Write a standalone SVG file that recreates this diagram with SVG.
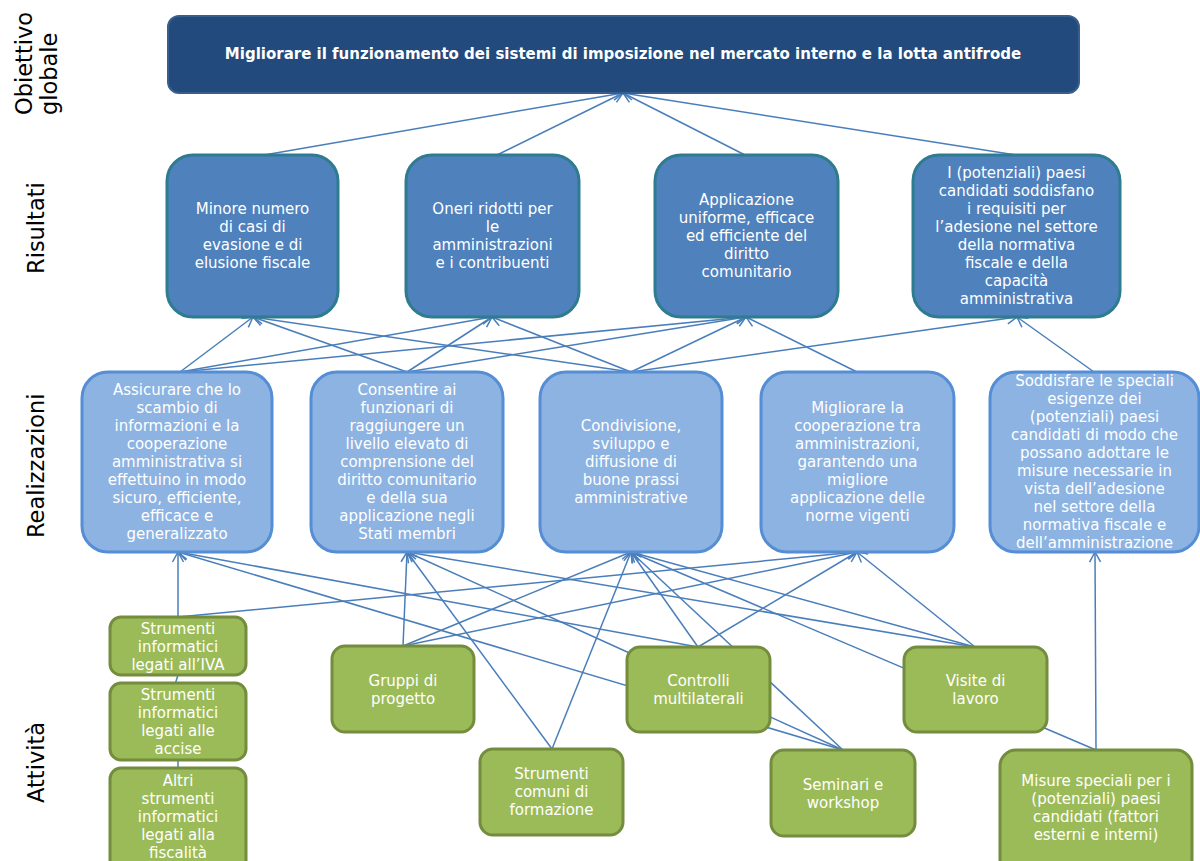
<svg xmlns="http://www.w3.org/2000/svg" width="1200" height="861" viewBox="0 0 1200 861">
<defs>
<marker id="arr" markerUnits="userSpaceOnUse" markerWidth="14" markerHeight="14" viewBox="-12 -7 14 14" refX="0" refY="0" orient="auto">
<path d="M-10,-5.5 L0,0 L-10,5.5" fill="none" stroke="#4a7ebb" stroke-width="1.5"/>
</marker>
<style>
.c{stroke:#4a7ebb;stroke-width:1.5;fill:none;marker-end:url(#arr)}
.p{stroke:#4a7ebb;stroke-width:1.5;fill:none}
.top{fill:#224a7c;stroke:#3a5e8c;stroke-width:2}
.res{fill:#4f81bd;stroke:#2f7b8f;stroke-width:3}
.real{fill:#8db3e2;stroke:#558ed5;stroke-width:3}
.act{fill:#9bbb59;stroke:#738c3d;stroke-width:3}
.t{font-family:'DejaVu Sans',Verdana,sans-serif;font-size:15px;fill:#ffffff;text-anchor:middle}
.tb{font-family:'DejaVu Sans',Verdana,sans-serif;font-size:15px;font-weight:bold;fill:#ffffff;text-anchor:middle}
.lab{font-family:'DejaVu Sans',Verdana,sans-serif;font-size:22.5px;fill:#000000}
</style>
</defs>
<rect width="1200" height="861" fill="#ffffff"/>

<g id="labels">
<text class="lab" transform="translate(32,115) rotate(-90)">Obiettivo</text>
<text class="lab" transform="translate(57,115) rotate(-90)">globale</text>
<text class="lab" transform="translate(44,274) rotate(-90)">Risultati</text>
<text class="lab" transform="translate(44,538) rotate(-90)">Realizzazioni</text>
<text class="lab" transform="translate(44,803) rotate(-90)">Attività</text>
</g>

<g id="connectors">
<line class="c" x1="264" y1="155" x2="623" y2="93"/>
<line class="c" x1="497" y1="155" x2="623" y2="93"/>
<line class="c" x1="745" y1="155" x2="623" y2="93"/>
<line class="c" x1="1016" y1="155" x2="623" y2="93"/>

<line class="c" x1="180" y1="372" x2="253" y2="317"/>
<line class="c" x1="180" y1="372" x2="492" y2="317"/>
<line class="c" x1="180" y1="372" x2="746" y2="317"/>
<line class="c" x1="407" y1="372" x2="253" y2="317"/>
<line class="c" x1="407" y1="372" x2="492" y2="317"/>
<line class="c" x1="407" y1="372" x2="746" y2="317"/>
<line class="c" x1="631" y1="372" x2="253" y2="317"/>
<line class="c" x1="631" y1="372" x2="492" y2="317"/>
<line class="c" x1="631" y1="372" x2="746" y2="317"/>
<line class="c" x1="631" y1="372" x2="1017" y2="317"/>
<line class="c" x1="857" y1="372" x2="746" y2="317"/>
<line class="c" x1="1094" y1="372" x2="1017" y2="317"/>

<line class="c" x1="178" y1="617" x2="178" y2="552"/>
<line class="c" x1="178" y1="617" x2="857" y2="552"/>
<line class="c" x1="403" y1="646" x2="407" y2="552"/>
<line class="c" x1="403" y1="646" x2="631" y2="552"/>
<line class="c" x1="403" y1="646" x2="857" y2="552"/>
<line class="c" x1="552" y1="749" x2="407" y2="552"/>
<line class="c" x1="552" y1="749" x2="631" y2="552"/>
<line class="c" x1="698" y1="647" x2="178" y2="552"/>
<line class="c" x1="698" y1="647" x2="631" y2="552"/>
<line class="c" x1="698" y1="647" x2="857" y2="552"/>
<line class="c" x1="843" y1="750" x2="178" y2="552"/>
<line class="c" x1="843" y1="750" x2="407" y2="552"/>
<line class="c" x1="843" y1="750" x2="631" y2="552"/>
<line class="c" x1="975" y1="647" x2="407" y2="552"/>
<line class="c" x1="975" y1="647" x2="631" y2="552"/>
<line class="c" x1="975" y1="647" x2="857" y2="552"/>
<line class="c" x1="1096" y1="750" x2="631" y2="552"/>
<line class="c" x1="1096" y1="750" x2="1095" y2="552"/>
<line class="p" x1="178" y1="675" x2="172" y2="694"/>
<line class="p" x1="178" y1="759" x2="178" y2="769"/>
</g>

<g id="n-top">
<rect class="top" x="168" y="16" width="911" height="77" rx="11"/>
<text class="tb" x="623" y="59">Migliorare il funzionamento dei sistemi di imposizione nel mercato interno e la lotta antifrode</text>
</g>

<g id="r1">
<rect class="res" x="167" y="155" width="171" height="162" rx="26"/>
<text class="t"><tspan x="252.5" y="214">Minore numero</tspan><tspan x="252.5" y="232">di casi di</tspan><tspan x="252.5" y="250">evasione e di</tspan><tspan x="252.5" y="268">elusione fiscale</tspan></text>
</g>
<g id="r2">
<rect class="res" x="406" y="155" width="173" height="162" rx="26"/>
<text class="t"><tspan x="492.5" y="214">Oneri ridotti per</tspan><tspan x="492.5" y="232">le</tspan><tspan x="492.5" y="250">amministrazioni</tspan><tspan x="492.5" y="268">e i contribuenti</tspan></text>
</g>
<g id="r3">
<rect class="res" x="655" y="155" width="183" height="162" rx="26"/>
<text class="t"><tspan x="746.5" y="205">Applicazione</tspan><tspan x="746.5" y="223">uniforme, efficace</tspan><tspan x="746.5" y="241">ed efficiente del</tspan><tspan x="746.5" y="259">diritto</tspan><tspan x="746.5" y="277">comunitario</tspan></text>
</g>
<g id="r4">
<rect class="res" x="913" y="155" width="207" height="162" rx="26"/>
<text class="t"><tspan x="1016.5" y="178">I (potenziali) paesi</tspan><tspan x="1016.5" y="196">candidati soddisfano</tspan><tspan x="1016.5" y="214">i requisiti per</tspan><tspan x="1016.5" y="232">l’adesione nel settore</tspan><tspan x="1016.5" y="250">della normativa</tspan><tspan x="1016.5" y="268">fiscale e della</tspan><tspan x="1016.5" y="286">capacità</tspan><tspan x="1016.5" y="304">amministrativa</tspan></text>
</g>

<g id="a1">
<rect class="real" x="82" y="372" width="190" height="180" rx="26"/>
<text class="t"><tspan x="177" y="395">Assicurare che lo</tspan><tspan x="177" y="413">scambio di</tspan><tspan x="177" y="431">informazioni e la</tspan><tspan x="177" y="449">cooperazione</tspan><tspan x="177" y="467">amministrativa si</tspan><tspan x="177" y="485">effettuino in modo</tspan><tspan x="177" y="503">sicuro, efficiente,</tspan><tspan x="177" y="521">efficace e</tspan><tspan x="177" y="539">generalizzato</tspan></text>
</g>
<g id="a2">
<rect class="real" x="311" y="372" width="192" height="180" rx="26"/>
<text class="t"><tspan x="407" y="395">Consentire ai</tspan><tspan x="407" y="413">funzionari di</tspan><tspan x="407" y="431">raggiungere un</tspan><tspan x="407" y="449">livello elevato di</tspan><tspan x="407" y="467">comprensione del</tspan><tspan x="407" y="485">diritto comunitario</tspan><tspan x="407" y="503">e della sua</tspan><tspan x="407" y="521">applicazione negli</tspan><tspan x="407" y="539">Stati membri</tspan></text>
</g>
<g id="a3">
<rect class="real" x="540" y="372" width="182" height="180" rx="26"/>
<text class="t"><tspan x="631" y="431">Condivisione,</tspan><tspan x="631" y="449">sviluppo e</tspan><tspan x="631" y="467">diffusione di</tspan><tspan x="631" y="485">buone prassi</tspan><tspan x="631" y="503">amministrative</tspan></text>
</g>
<g id="a4">
<rect class="real" x="761" y="372" width="193" height="180" rx="26"/>
<text class="t"><tspan x="857.5" y="413">Migliorare la</tspan><tspan x="857.5" y="431">cooperazione tra</tspan><tspan x="857.5" y="449">amministrazioni,</tspan><tspan x="857.5" y="467">garantendo una</tspan><tspan x="857.5" y="485">migliore</tspan><tspan x="857.5" y="503">applicazione delle</tspan><tspan x="857.5" y="521">norme vigenti</tspan></text>
</g>
<g id="a5">
<rect class="real" x="990" y="372" width="209" height="180" rx="26"/>
<text class="t"><tspan x="1094.5" y="386">Soddisfare le speciali</tspan><tspan x="1094.5" y="404">esigenze dei</tspan><tspan x="1094.5" y="422">(potenziali) paesi</tspan><tspan x="1094.5" y="440">candidati di modo che</tspan><tspan x="1094.5" y="458">possano adottare le</tspan><tspan x="1094.5" y="476">misure necessarie in</tspan><tspan x="1094.5" y="494">vista dell’adesione</tspan><tspan x="1094.5" y="512">nel settore della</tspan><tspan x="1094.5" y="530">normativa fiscale e</tspan><tspan x="1094.5" y="548">dell’amministrazione</tspan></text>
</g>

<g id="b1">
<rect class="act" x="110" y="617" width="136" height="58" rx="11"/>
<text class="t"><tspan x="178" y="634">Strumenti</tspan><tspan x="178" y="652">informatici</tspan><tspan x="178" y="670">legati all’IVA</tspan></text>
</g>
<g id="b2">
<rect class="act" x="110" y="683" width="136" height="77" rx="11"/>
<text class="t"><tspan x="178" y="700">Strumenti</tspan><tspan x="178" y="718">informatici</tspan><tspan x="178" y="736">legati alle</tspan><tspan x="178" y="754">accise</tspan></text>
</g>
<g id="b3">
<rect class="act" x="110" y="768" width="136" height="110" rx="11"/>
<text class="t"><tspan x="178" y="786">Altri</tspan><tspan x="178" y="804">strumenti</tspan><tspan x="178" y="822">informatici</tspan><tspan x="178" y="840">legati alla</tspan><tspan x="178" y="858">fiscalità</tspan></text>
</g>
<g id="b4">
<rect class="act" x="332" y="646" width="142" height="86" rx="13"/>
<text class="t"><tspan x="403" y="686">Gruppi di</tspan><tspan x="403" y="704">progetto</tspan></text>
</g>
<g id="b5">
<rect class="act" x="480" y="749" width="143" height="86" rx="13"/>
<text class="t"><tspan x="551.5" y="779">Strumenti</tspan><tspan x="551.5" y="797">comuni di</tspan><tspan x="551.5" y="815">formazione</tspan></text>
</g>
<g id="b6">
<rect class="act" x="627" y="647" width="143" height="85" rx="13"/>
<text class="t"><tspan x="698.5" y="686">Controlli</tspan><tspan x="698.5" y="704">multilaterali</tspan></text>
</g>
<g id="b7">
<rect class="act" x="771" y="750" width="144" height="86" rx="13"/>
<text class="t"><tspan x="843" y="790">Seminari e</tspan><tspan x="843" y="808">workshop</tspan></text>
</g>
<g id="b8">
<rect class="act" x="904" y="647" width="143" height="85" rx="13"/>
<text class="t"><tspan x="975.5" y="686">Visite di</tspan><tspan x="975.5" y="704">lavoro</tspan></text>
</g>
<g id="b9">
<rect class="act" x="1000" y="750" width="192" height="125" rx="16"/>
<text class="t"><tspan x="1096" y="786">Misure speciali per i</tspan><tspan x="1096" y="804">(potenziali) paesi</tspan><tspan x="1096" y="822">candidati (fattori</tspan><tspan x="1096" y="840">esterni e interni)</tspan></text>
</g>
</svg>
